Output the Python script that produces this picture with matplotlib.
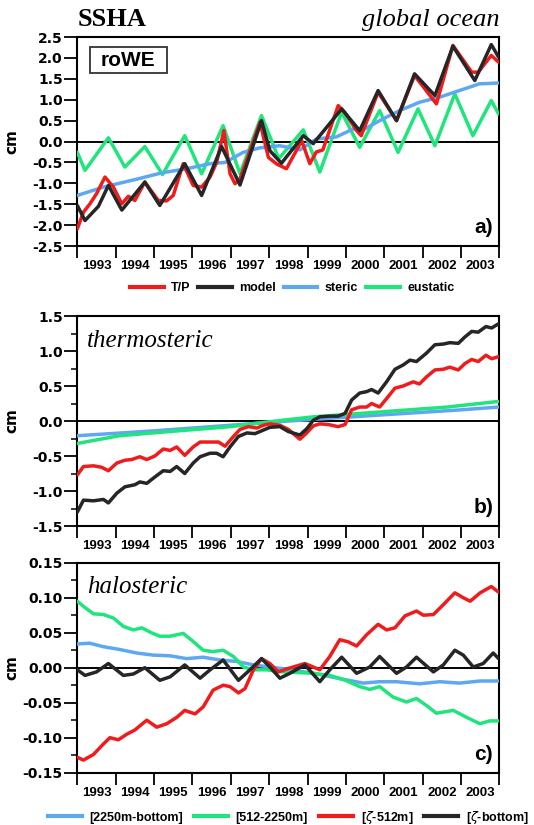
import matplotlib
matplotlib.use('Agg')
import matplotlib.pyplot as plt
from matplotlib.lines import Line2D
from matplotlib.patches import Rectangle
from matplotlib.ticker import FixedLocator, MultipleLocator, FormatStrFormatter

plt.rcParams['font.family'] = ['Liberation Sans', 'DejaVu Sans']

RED = '#ee1c1c'
BLACK = '#262626'
BLUE = '#5ea8f2'
GREEN = '#1fe57c'

years = list(range(1993, 2004))

# ---- panel a: SSHA (cm) ----
a_tp_t = [1993.0, 1993.16, 1993.33, 1993.50, 1993.72, 1993.94, 1994.16, 1994.33, 1994.50, 1994.76,
          1995.11, 1995.33, 1995.50, 1995.76, 1996.02, 1996.24, 1996.46, 1996.63, 1996.82, 1996.98,
          1997.11, 1997.24, 1997.76, 1997.98, 1998.20, 1998.45, 1998.85, 1999.06, 1999.23, 1999.40,
          1999.80, 1999.97, 2000.28, 2000.40, 2000.84, 2001.32, 2001.79, 2002.36, 2002.79, 2003.28,
          2003.45, 2003.79, 2003.98]
a_tp = [-2.09, -1.69, -1.49, -1.25, -0.85, -1.09, -1.49, -1.31, -1.41, -0.97,
        -1.41, -1.42, -1.29, -0.53, -1.05, -1.09, -0.85, -0.50, 0.26, -0.77,
        -1.01, -0.89, 0.46, -0.38, -0.54, -0.65, 0.02, -0.53, -0.25, -0.20,
        0.86, 0.70, 0.26, 0.14, 1.18, 0.50, 1.58, 0.90, 2.30, 1.66,
        1.66, 2.06, 1.90]
a_model_t = [1993.0, 1993.20, 1993.55, 1993.81, 1994.16, 1994.76, 1995.15, 1995.80, 1996.24, 1996.76,
             1997.24, 1997.80, 1998.02, 1998.32, 1998.89, 1999.15, 1999.89, 2000.36, 2000.84, 2001.32,
             2001.79, 2002.32, 2002.79, 2003.36, 2003.79, 2003.98]
a_model = [-1.53, -1.89, -1.55, -1.05, -1.64, -0.97, -1.53, -0.53, -1.29, -0.12,
           -1.04, 0.50, -0.22, -0.52, 0.14, -0.05, 0.78, 0.26, 1.22, 0.50,
           1.62, 1.10, 2.28, 1.46, 2.32, 2.02]
a_steric_t = [1993.0, 1993.68, 1994.55, 1995.20, 1995.85, 1996.46, 1996.85, 1997.32, 1997.76, 1998.02,
              1998.27, 1998.45, 1998.80, 1999.23, 1999.75, 2000.19, 2000.45, 2000.88, 2001.40, 2001.92,
              2002.44, 2002.96, 2003.48, 2003.98]
a_steric = [-1.29, -1.09, -0.90, -0.75, -0.65, -0.53, -0.50, -0.26, -0.15, -0.13,
            -0.10, -0.13, -0.20, 0.06, 0.11, 0.30, 0.28, 0.50, 0.74, 0.94,
            1.06, 1.22, 1.38, 1.40]
a_eust_t = [1993.0, 1993.20, 1993.81, 1994.24, 1994.76, 1995.22, 1995.80, 1996.24, 1996.80, 1997.24,
            1997.80, 1998.25, 1998.89, 1999.32, 1999.89, 2000.36, 2000.88, 2001.36, 2001.88, 2002.32,
            2002.84, 2003.31, 2003.79, 2003.98]
a_eust = [-0.26, -0.69, 0.09, -0.61, -0.12, -0.79, 0.14, -0.77, 0.38, -0.77,
          0.62, -0.41, 0.28, -0.73, 0.70, -0.14, 0.74, -0.26, 0.78, -0.10,
          1.14, 0.14, 0.98, 0.66]

# ---- panel b: thermosteric (cm) ----
b_model_t = [1993.0, 1993.16, 1993.42, 1993.68, 1993.81, 1994.03, 1994.24, 1994.50, 1994.63, 1994.81,
             1995.02, 1995.24, 1995.42, 1995.59, 1995.80, 1996.02, 1996.20, 1996.46, 1996.63, 1996.80,
             1996.98, 1997.20, 1997.42, 1997.63, 1997.76, 1998.02, 1998.28, 1998.50, 1998.80, 1998.98,
             1999.15, 1999.32, 1999.58, 1999.80, 1999.98, 2000.15, 2000.36, 2000.54, 2000.67, 2000.84,
             2001.06, 2001.28, 2001.49, 2001.67, 2001.84, 2002.10, 2002.32, 2002.54, 2002.71, 2002.93,
             2003.10, 2003.28, 2003.45, 2003.65, 2003.80, 2003.98]
b_model = [-1.30, -1.13, -1.14, -1.12, -1.17, -1.03, -0.94, -0.91, -0.87, -0.89,
           -0.80, -0.71, -0.72, -0.65, -0.75, -0.60, -0.51, -0.46, -0.46, -0.51,
           -0.37, -0.22, -0.17, -0.18, -0.15, -0.09, -0.08, -0.15, -0.20, -0.11,
           0.01, 0.06, 0.07, 0.07, 0.11, 0.30, 0.40, 0.42, 0.45, 0.40,
           0.56, 0.74, 0.80, 0.87, 0.85, 0.97, 1.09, 1.10, 1.12, 1.11,
           1.20, 1.28, 1.27, 1.35, 1.33, 1.39]
b_tp_t = [1993.0, 1993.16, 1993.42, 1993.63, 1993.81, 1994.03, 1994.24, 1994.42, 1994.63, 1994.81,
          1995.02, 1995.24, 1995.42, 1995.59, 1995.80, 1996.02, 1996.20, 1996.46, 1996.68, 1996.85,
          1997.07, 1997.24, 1997.46, 1997.68, 1997.85, 1998.02, 1998.28, 1998.50, 1998.80, 1998.98,
          1999.15, 1999.32, 1999.54, 1999.80, 1999.98, 2000.15, 2000.36, 2000.54, 2000.67, 2000.88,
          2001.06, 2001.28, 2001.49, 2001.75, 2001.92, 2002.10, 2002.32, 2002.54, 2002.71, 2002.93,
          2003.10, 2003.28, 2003.45, 2003.65, 2003.80, 2003.98]
b_tp = [-0.77, -0.65, -0.64, -0.66, -0.71, -0.60, -0.56, -0.55, -0.51, -0.55,
        -0.50, -0.40, -0.42, -0.37, -0.49, -0.37, -0.30, -0.30, -0.30, -0.36,
        -0.22, -0.12, -0.08, -0.10, -0.06, -0.04, -0.06, -0.12, -0.26, -0.17,
        -0.07, -0.04, -0.05, -0.08, -0.05, 0.16, 0.20, 0.20, 0.25, 0.20,
        0.32, 0.47, 0.50, 0.56, 0.53, 0.63, 0.73, 0.74, 0.77, 0.73,
        0.82, 0.88, 0.85, 0.94, 0.89, 0.92]
b_deep_t = [1993.0, 1995.0, 1997.0, 1998.5, 2001.0, 2003.0, 2003.98]
b_deep = [-0.21, -0.14, -0.06, 0.00, 0.09, 0.16, 0.20]
b_mid_t = [1993.0, 1994.1, 1995.4, 1997.0, 1998.0, 1999.15, 2000.9, 2002.64, 2003.98]
b_mid = [-0.32, -0.21, -0.15, -0.08, -0.01, 0.06, 0.13, 0.20, 0.28]

# ---- panel c: halosteric (cm) ----
c_deep_t = [1993.0, 1993.32, 1993.68, 1994.11, 1994.55, 1994.98, 1995.42, 1995.85, 1996.28, 1996.72,
            1997.15, 1997.59, 1998.02, 1998.45, 1999.15, 1999.98, 2000.45, 2000.88, 2001.32, 2001.92,
            2002.45, 2002.96, 2003.49, 2003.98]
c_deep = [0.034, 0.035, 0.030, 0.026, 0.021, 0.018, 0.017, 0.013, 0.015, 0.011,
          0.009, 0.004, 0.001, -0.002, -0.008, -0.017, -0.022, -0.020, -0.020, -0.023,
          -0.020, -0.022, -0.019, -0.019]
c_mid_t = [1993.0, 1993.20, 1993.42, 1993.68, 1993.94, 1994.20, 1994.46, 1994.68, 1994.93, 1995.15,
           1995.42, 1995.76, 1996.02, 1996.28, 1996.54, 1996.80, 1997.07, 1997.33, 1997.59, 1997.93,
           1998.37, 1999.15, 1999.58, 1999.99, 2000.36, 2000.62, 2000.88, 2001.23, 2001.58, 2001.84,
           2002.10, 2002.36, 2002.80, 2003.15, 2003.49, 2003.75, 2003.98]
c_mid = [0.095, 0.086, 0.077, 0.076, 0.071, 0.059, 0.054, 0.057, 0.050, 0.045,
         0.045, 0.049, 0.0375, 0.025, 0.023, 0.025, 0.016, 0.001, -0.003, -0.003,
         -0.006, -0.008, -0.011, -0.018, -0.027, -0.031, -0.027, -0.042, -0.049, -0.044,
         -0.054, -0.065, -0.061, -0.071, -0.080, -0.076, -0.076]
c_top_t = [1993.0, 1993.16, 1993.42, 1993.68, 1993.85, 1994.07, 1994.29, 1994.50, 1994.81, 1995.07,
           1995.33, 1995.59, 1995.80, 1996.07, 1996.28, 1996.54, 1996.80, 1996.98, 1997.20, 1997.37,
           1997.59, 1997.80, 1998.02, 1998.24, 1998.50, 1998.63, 1998.93, 1999.15, 1999.32, 1999.58,
           1999.84, 2000.06, 2000.28, 2000.54, 2000.84, 2001.06, 2001.28, 2001.54, 2001.84, 2002.02,
           2002.28, 2002.54, 2002.84, 2003.06, 2003.24, 2003.50, 2003.79, 2003.98]
c_top = [-0.128, -0.132, -0.124, -0.109, -0.100, -0.103, -0.095, -0.089, -0.075, -0.085,
         -0.080, -0.071, -0.061, -0.066, -0.056, -0.032, -0.025, -0.027, -0.036, -0.030,
         -0.003, 0.013, 0.006, -0.006, -0.001, 0.001, 0.006, 0.001, -0.003, 0.016,
         0.040, 0.037, 0.031, 0.047, 0.062, 0.054, 0.057, 0.074, 0.081, 0.075,
         0.076, 0.090, 0.107, 0.100, 0.095, 0.107, 0.116, 0.108]
c_total_t = [1993.0, 1993.20, 1993.50, 1993.81, 1994.20, 1994.46, 1994.76, 1995.15, 1995.42, 1995.80,
             1996.20, 1996.46, 1996.80, 1997.20, 1997.50, 1997.80, 1998.02, 1998.28, 1998.54, 1998.93,
             1999.32, 1999.58, 1999.89, 2000.28, 2000.62, 2000.88, 2001.32, 2001.58, 2001.84, 2002.28,
             2002.54, 2002.84, 2003.06, 2003.32, 2003.58, 2003.84, 2003.98]
c_total = [-0.003, -0.011, -0.006, 0.006, -0.011, -0.009, 0.000, -0.018, -0.013, 0.004,
           -0.015, -0.003, 0.011, -0.018, -0.003, 0.013, 0.001, -0.015, -0.008, 0.004,
           -0.020, -0.003, 0.015, -0.008, 0.001, 0.016, -0.008, 0.001, 0.015, -0.006,
           0.004, 0.025, 0.018, 0.001, 0.006, 0.021, 0.013]

LW = 2.5
fig = plt.figure(figsize=(5.34, 8.25), dpi=100)
ax_a = fig.add_axes([0.1448, 0.7018, 0.7903, 0.2533])
ax_b = fig.add_axes([0.1448, 0.3624, 0.7903, 0.2545])
ax_c = fig.add_axes([0.1448, 0.0634, 0.7903, 0.2545])


def style_axis(ax, ymin, ymax, major, minor, fmt, label):
    ax.set_xlim(1993, 2004)
    ax.set_ylim(ymin, ymax)
    ax.axhline(0, color='black', linewidth=1.4, zorder=1)
    for s in ax.spines.values():
        s.set_linewidth(1.5)
    # year labels centred in each year, ticks at year boundaries
    ax.xaxis.set_major_locator(FixedLocator([y + 0.5 for y in years]))
    ax.set_xticklabels([str(y) for y in years], fontsize=9.5, fontweight='bold')
    ax.xaxis.set_minor_locator(FixedLocator(list(range(1993, 2005))))
    ax.tick_params(axis='x', which='major', length=0, pad=10)
    ax.tick_params(axis='x', which='minor', direction='out', length=8.5, width=1.3)
    ax.yaxis.set_major_locator(MultipleLocator(major))
    ax.yaxis.set_major_formatter(FormatStrFormatter(fmt))
    if minor:
        ax.yaxis.set_minor_locator(MultipleLocator(minor))
    ax.tick_params(axis='y', which='major', direction='out', length=9.5, width=1.3, pad=1)
    ax.tick_params(axis='y', which='minor', direction='out', length=4, width=1.1)
    for t in ax.get_yticklabels():
        t.set_fontfamily('DejaVu Sans')
        t.set_fontweight('bold')
        t.set_fontsize(10)
    ax.set_ylabel('cm', fontsize=11, fontweight='bold', family='DejaVu Sans')
    ax.yaxis.set_label_coords(-0.138, 0.5)
    ax.text(0.985, 0.062, label, transform=ax.transAxes, ha='right', va='baseline',
            fontsize=15, fontweight='bold')


def line(ax, t, v, c):
    ax.plot(t, v, color=c, linewidth=LW, solid_joinstyle='round', solid_capstyle='round', zorder=3)


# panel a
line(ax_a, a_eust_t, a_eust, GREEN)
line(ax_a, a_steric_t, a_steric, BLUE)
line(ax_a, a_tp_t, a_tp, RED)
line(ax_a, a_model_t, a_model, BLACK)
style_axis(ax_a, -2.5, 2.5, 0.5, None, '%.1f', 'a)')
ax_a.add_patch(Rectangle((0.030, 0.826), 0.182, 0.128, transform=ax_a.transAxes,
                         fill=True, facecolor='white', edgecolor='#333333', linewidth=1.3, zorder=5))
ax_a.text(0.121, 0.89, 'roWE', transform=ax_a.transAxes, ha='center', va='center',
          fontsize=15, fontweight='bold', zorder=6)

# panel b
line(ax_b, b_deep_t, b_deep, BLUE)
line(ax_b, b_mid_t, b_mid, GREEN)
line(ax_b, b_tp_t, b_tp, RED)
line(ax_b, b_model_t, b_model, BLACK)
style_axis(ax_b, -1.5, 1.5, 0.5, 0.25, '%.1f', 'b)')
ax_b.text(0.022, 0.854, 'thermosteric', transform=ax_b.transAxes, ha='left', va='baseline',
          fontsize=18, style='italic', family='Liberation Serif')

# panel c
line(ax_c, c_deep_t, c_deep, BLUE)
line(ax_c, c_mid_t, c_mid, GREEN)
line(ax_c, c_top_t, c_top, RED)
line(ax_c, c_total_t, c_total, BLACK)
style_axis(ax_c, -0.15, 0.15, 0.05, 0.025, '%.2f', 'c)')
ax_c.text(0.022, 0.857, 'halosteric', transform=ax_c.transAxes, ha='left', va='baseline',
          fontsize=18, style='italic', family='Liberation Serif')

# titles
fig.text(0.1448, 1 - 26 / 825, 'SSHA', ha='left', va='baseline', fontsize=19,
         fontweight='bold', family='Liberation Serif')
fig.text(0.935, 1 - 26 / 825, 'global ocean', ha='right', va='baseline', fontsize=19,
         style='italic', family='Liberation Serif')

# legends
h1 = [Line2D([], [], color=c, linewidth=3) for c in (RED, BLACK, BLUE, GREEN)]
fig.legend(h1, ['T/P', 'model', 'steric', 'eustatic'], loc='center',
           bbox_to_anchor=(0.547, 1 - 288 / 825), ncol=4, frameon=False,
           prop={'weight': 'bold', 'size': 9}, handlelength=2.7, handletextpad=0.6,
           columnspacing=0.6)
h2 = [Line2D([], [], color=c, linewidth=3) for c in (BLUE, GREEN, RED, BLACK)]
fig.legend(h2, ['[2250m-bottom]', '[512-2250m]', r'[$\zeta$-512m]', r'[$\zeta$-bottom]'],
           loc='center', bbox_to_anchor=(0.540, 1 - 817 / 825), ncol=4, frameon=False,
           prop={'weight': 'bold', 'size': 9}, handlelength=2.7, handletextpad=0.6,
           columnspacing=0.9)

fig.savefig('out.png', dpi=100)
